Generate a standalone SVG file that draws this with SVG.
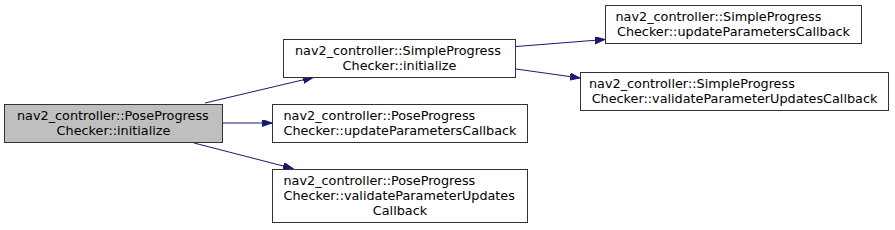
<svg xmlns="http://www.w3.org/2000/svg" width="895" height="230" viewBox="0 0 895 230">
<defs>
<marker id="ah" markerUnits="userSpaceOnUse" markerWidth="11" markerHeight="8" refX="10" refY="3.5" orient="auto">
<path d="M0,0 L10,3.5 L0,7 z" fill="#191970" stroke="#191970" stroke-width="1"/>
</marker>
</defs>
<style>
.box{fill:#ffffff;stroke:#333333;stroke-width:1}
.root{fill:#bfbfbf}
text{font-family:"DejaVu Sans","Liberation Sans",sans-serif;font-size:12.8px;fill:#000}
.m{text-anchor:middle}
.edge{fill:none;stroke:#191970;stroke-width:1;marker-end:url(#ah)}
</style>
<rect width="895" height="230" fill="#ffffff"/>
<g id="edges">
<path class="edge" d="M205,103 L313,77.5"/>
<path class="edge" d="M223,123 L272,123"/>
<path class="edge" d="M194,143 L293,168.5"/>
<path class="edge" d="M516,46.5 L605,39.5"/>
<path class="edge" d="M516,69 L580,78"/>
</g>
<g id="node_root">
<rect class="box root" x="4.5" y="104.5" width="218" height="38"/>
<text x="17" y="119.5">nav2_controller::PoseProgress</text>
<text class="m" x="113.5" y="134.5">Checker::initialize</text>
</g>
<g id="node_simple_initialize">
<rect class="box" x="283.5" y="39.5" width="232" height="38"/>
<text x="295" y="54.5">nav2_controller::SimpleProgress</text>
<text class="m" x="399.5" y="69.5">Checker::initialize</text>
</g>
<g id="node_pose_update">
<rect class="box" x="272.5" y="104.5" width="255" height="38"/>
<text x="283.5" y="119.5">nav2_controller::PoseProgress</text>
<text class="m" x="400" y="134.5">Checker::updateParametersCallback</text>
</g>
<g id="node_pose_validate">
<rect class="box" x="272.5" y="169.5" width="255" height="53"/>
<text x="283.5" y="185">nav2_controller::PoseProgress</text>
<text x="283.5" y="200">Checker::validateParameterUpdates</text>
<text class="m" x="400" y="215">Callback</text>
</g>
<g id="node_simple_update">
<rect class="box" x="605.5" y="5.5" width="256" height="38"/>
<text x="615.5" y="20.5">nav2_controller::SimpleProgress</text>
<text class="m" x="733.5" y="35.5">Checker::updateParametersCallback</text>
</g>
<g id="node_simple_validate">
<rect class="box" x="580.5" y="72.5" width="308" height="38"/>
<text x="589" y="87.5">nav2_controller::SimpleProgress</text>
<text class="m" x="734.5" y="102.5">Checker::validateParameterUpdatesCallback</text>
</g>
</svg>
